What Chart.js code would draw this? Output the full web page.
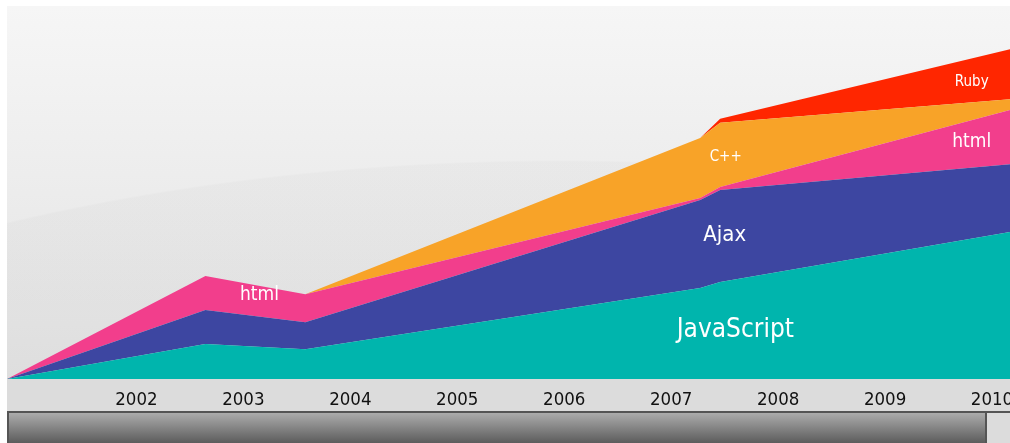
<!DOCTYPE html>
<html>
<head>
<meta charset="utf-8">
<script src="https://cdn.jsdelivr.net/npm/chart.js@4"></script>
<style>
  html, body { margin: 0; padding: 0; background: #fff; overflow: hidden; width: 1010px; height: 443px; }
  #bg {
    position: absolute; left: 7px; top: 6px; width: 1003px; height: 373px;
    background:
      radial-gradient(ellipse 1249px 600px at 553px 754px, rgba(0,0,0,0.02) 99.7%, rgba(0,0,0,0) 100%),
      linear-gradient(#f6f6f6, #e2e2e2);
  }
  #band { position: absolute; left: 7px; top: 379px; width: 1003px; height: 33px; background: #dcdcdc; }
  #wrap { position: absolute; left: 7px; top: 6px; width: 1040px; height: 405px; }
  #scroll { position: absolute; left: 7px; top: 411px; width: 1003px; height: 32px; background: #dcdcdc; border-top: 2px solid #555; box-sizing: border-box; }
  #thumb { position: absolute; left: 0; top: 0; width: 980px; height: 30px; border-left: 2px solid #555; border-right: 2px solid #555; box-sizing: border-box; background: linear-gradient(#acacac, #5c5c5c); }
</style>
</head>
<body>
<div id="bg"></div>
<div id="band"></div>
<div id="wrap"><canvas id="js--chart"></canvas></div>
<div id="scroll"><div id="thumb"></div></div>
<script>
// x positions in years
const years = [2000.79, 2002.645, 2003.579, 2007.271, 2007.458, 2010.168];
const javascriptValues = [0, 9.4, 8.0, 24.4, 26.0, 39.4];
const ajaxValues = [0, 9.1, 7.2, 23.6, 24.7, 18.2];
const htmlValues = [0, 9.1, 7.5, 0.5, 0.8, 14.5];
const cppValues = [0, 0, 0, 16.1, 17.2, 2.9];
const rubyValues = [0, 0, 0, 0, 1.1, 13.4];
const tickYears = [2002, 2003, 2004, 2005, 2006, 2007, 2008, 2009, 2010];

// text written inside the areas
const areaLabels = ["html", "C++", "Ajax", "JavaScript", "Ruby", "html"];
const areaLabelX = [2003.15, 2007.51, 2007.50, 2007.60, 2009.81, 2009.81];
const areaLabelY = [22.5, 59.5, 38.6, 13.1, 79.6, 63.5];
const areaLabelSize = [19, 15, 22, 26, 15, 19];

const fontName = '"DejaVu Sans Condensed", "DejaVu Sans", sans-serif';

function points(values){
    return years.map(function(x, i){
        return {x: x, y: values[i]};
    });
}

function area(label, values, color, fill){
    return {
        label: label,
        data: points(values),
        backgroundColor: color,
        borderColor: color,
        borderWidth: 0,
        pointRadius: 0,
        tension: 0,
        fill: fill
    };
}

const labelPlugin = {
    id: "areaLabels",
    afterDatasetsDraw: function(chart){
        const ctx = chart.ctx;
        const xs = chart.scales.x;
        const ys = chart.scales.y;
        ctx.save();
        ctx.fillStyle = "#ffffff";
        ctx.textAlign = "center";
        ctx.textBaseline = "middle";
        for(let i = 0; i < areaLabels.length; i++){
            ctx.font = areaLabelSize[i] + "px " + fontName;
            ctx.fillText(areaLabels[i], xs.getPixelForValue(areaLabelX[i]), ys.getPixelForValue(areaLabelY[i]));
        }
        ctx.restore();
    }
};

const data = {
    datasets: [
        area("JavaScript", javascriptValues, "#00b5ad", "origin"),
        area("Ajax", ajaxValues, "#3d46a1", "-1"),
        area("html", htmlValues, "#f23e8c", "-1"),
        area("C++", cppValues, "#f8a328", "-1"),
        area("Ruby", rubyValues, "#ff2600", "-1")
    ]
};

const config = {
    type: "line",
    data: data,
    plugins: [labelPlugin],
    options: {
        responsive: false,
        animation: false,
        layout: { padding: { left: 0, right: 37, top: 0, bottom: 0 } },
        plugins: { legend: { display: false }, tooltip: { enabled: false } },
        scales: {
            x: {
                type: "linear",
                min: years[0],
                max: years[years.length - 1],
                border: { display: false },
                grid: { display: false, drawTicks: false },
                afterBuildTicks: function(scale){
                    scale.ticks = tickYears.map(function(y){ return {value: y}; });
                },
                afterFit: function(scale){ scale.height = 32; },
                ticks: {
                    autoSkip: false,
                    maxRotation: 0,
                    padding: 10,
                    color: "#111111",
                    font: { family: fontName, size: 18.5 },
                    callback: function(value){ return String(value); }
                }
            },
            y: {
                display: false,
                stacked: true,
                min: 0,
                max: 100
            }
        }
    }
};

const canvas = document.getElementById("js--chart");
canvas.width = 1040;
canvas.height = 405;
new Chart(canvas, config);
</script>
</body>
</html>
